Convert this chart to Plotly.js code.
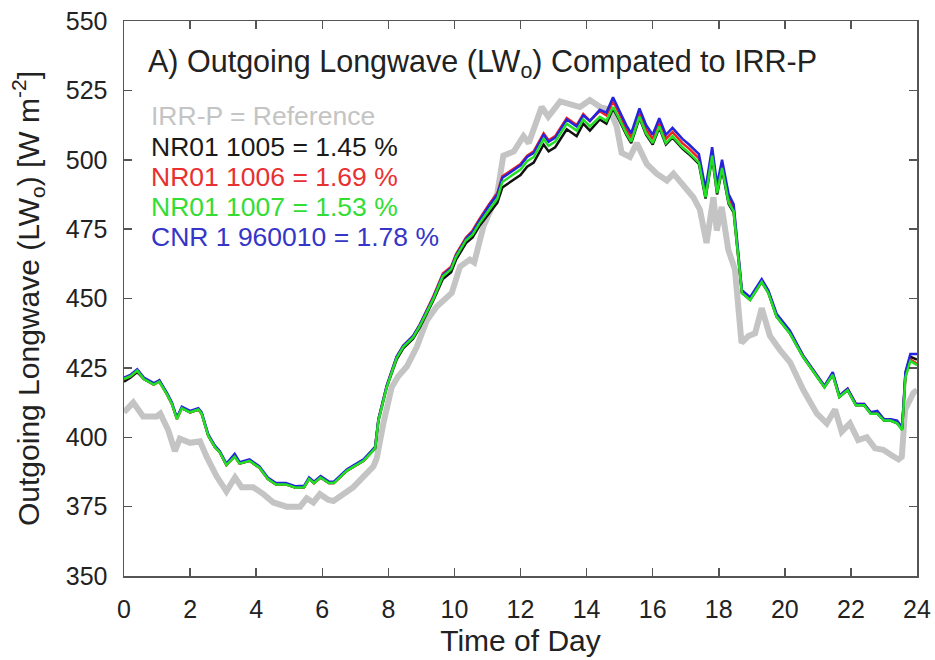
<!DOCTYPE html>
<html>
<head>
<meta charset="utf-8">
<script src="https://cdn.plot.ly/plotly-3.0.1.min.js"></script>
<style>html,body{margin:0;padding:0;background:#fff;}#chart{width:935px;height:660px;}</style>
</head>
<body>
<div id="chart"></div>
<script>
// Time of day (hours) for the reference series
const tRef = [0,0.28,0.58,0.99,1.1,1.34,1.54,1.69,2.0,2.3,2.5,2.8,3.1,3.36,3.56,3.91,4.22,4.52,4.92,5.33,5.53,5.73,5.93,6.18,6.34,6.94,7.55,7.65,7.85,8.1,8.3,8.56,8.86,9.16,9.46,9.7,9.92,10.17,10.47,10.6,10.88,11.1,11.3,11.48,11.8,12.09,12.25,12.64,12.84,13.2,13.5,13.8,14.1,14.41,14.71,14.91,15.06,15.31,15.52,15.82,16.12,16.43,16.63,16.93,17.23,17.43,17.63,17.84,17.94,18.09,18.29,18.49,18.69,18.9,19.1,19.3,19.55,19.85,20.16,20.56,20.97,21.27,21.52,21.72,21.97,22.22,22.48,22.73,22.98,23.23,23.44,23.54,23.64,23.89,24.0];
const lwRef = [409,412.5,407.5,407.5,408.5,402.5,395,399.5,398,398.5,393,386,380.5,385.5,382,382,379.5,376.5,375,375,378,376.5,379.5,377.5,377,382,389.5,392.5,405,418,422,425.5,432.5,442,447,450,452,461.5,464,463,476,482,488,501.5,503,508.5,506,519,515.5,521,520,519,521.5,519,518,512,502.5,501,506,498.5,495,492.5,495,490.5,486.5,482,470,486.5,474.5,483,467.5,460.5,434,436.5,437.5,446.5,436.5,431.5,427,417,408.5,405,410,402,405,399,400,396,395.5,393.5,392,393,410,416,417];

// Time of day (hours) for the instrument series
const tModel = [0,0.2,0.4,0.6,0.9,1.07,1.3,1.45,1.6,1.75,2.0,2.25,2.35,2.55,2.75,2.9,3.1,3.35,3.5,3.8,4.1,4.35,4.6,4.9,5.2,5.45,5.6,5.75,5.95,6.2,6.35,6.75,7.25,7.55,7.6,7.7,7.95,8.25,8.45,8.75,8.95,9.35,9.65,9.9,10.05,10.35,10.55,10.75,11.05,11.3,11.45,11.7,12.0,12.2,12.4,12.7,12.85,13.05,13.4,13.7,13.9,14.1,14.4,14.6,14.8,15.0,15.2,15.35,15.6,15.8,16.0,16.2,16.4,16.6,16.9,17.1,17.4,17.6,17.8,17.95,18.1,18.3,18.45,18.7,18.95,19.3,19.5,19.75,20.15,20.55,20.95,21.2,21.45,21.65,21.9,22.15,22.4,22.6,22.8,23.0,23.2,23.4,23.55,23.65,23.8,24.0];
const lw1005 = [420,421.5,423.5,421,419,420.5,415.5,412,407,410.5,409,410,408.5,400.5,396.5,394.5,390,393.5,390.5,391.5,389,385,383,383,381.8,382,385,383.5,385.5,383.5,383.5,388,391.5,395.5,396,406,418,428,432,435.5,439.5,449,457,459.5,464,470,472,476,480.5,484.5,490,492,494.5,497.5,499,505.5,503,504.5,511,508.5,513,510.5,514.5,513,518.5,514,509,506,515,509,505.5,511.5,505.5,508,504,502,498.5,486,501,487.5,496.5,484,481,452,449.5,456,452,443.5,437.5,429,422,418,422.5,414.5,417,411.5,411.5,408.5,408.5,406,406,405,403,423,429,428];
const lw1006 = [421,422,424,421,419,420,415.5,412,406.5,410.5,409,410,408.5,400.5,396.5,394.5,390,393,390.5,391.5,389,385,383,383,381.8,382,385,383.5,385.5,383.5,383.5,388,391.5,395.5,396.5,406.5,418.5,429,433,436.5,440.5,450.5,459,461.5,466,472,474.5,478.5,484,488,494,496,498.5,501.5,503,509.5,507,508.5,515,512.5,516.5,514,517.5,516,521,516.5,511,508,517,511,507.5,513.5,507.5,510,506,504,500.5,488,503,489.5,498.5,486,482.5,452.5,450,456.5,452.5,444,438,429.5,422.5,418.5,423,415,417.5,412,412,409,409,406.5,406.5,405.5,403,422,428,426.5];
const lw1007 = [421,422,424,421,419,420,415.5,412,406.5,410.5,409,410,408.5,400.5,396.5,394.5,390,393,390.5,391.5,389,385,383,383,381.8,382,385,383.5,385.5,383.5,383.5,388,391.5,395.5,396,406,418,428.5,432.5,436,440,449.5,458,460.5,465,471,473,477,482,486,492,494,496.5,499.5,501,507.5,505,506.5,513,510.5,514.5,512,515.5,514,519,514.5,509.5,506.5,515.5,509.5,506,512,506,508.5,504.5,502.5,499,486.5,501.5,488,497,484.5,481.5,452,449.5,456,452,443.5,437.5,429,422,418,422.5,414.5,417,411.5,411.5,408.5,408.5,406,406,405,402.5,421.5,427.5,426];
const lwCNR = [421.5,422.5,424.5,421.5,419.5,420.5,416,412.5,407,411,409.5,410.5,409,401,397,395,390.5,394,391,392,389.5,385.5,383.5,383.5,382.3,382.5,385.5,384,386,384,384,388.5,392,396,396.5,406.5,418.5,429,433,436.5,440.5,450,458.5,461,465.5,471.5,474,478,483.5,487.5,493.5,495.5,498,501,502.5,509,506.5,508,514.5,512,516,514,518,517,522.5,517.5,512.5,509.5,518.5,512.5,509,515,509,511.5,507.5,505.5,502,489.5,504.5,491,500,487.5,484,453,450.5,457,453,444.5,438.5,429.5,422.5,418.5,423.5,415,417.5,412,412,409,409.5,406.5,406.5,406,403.5,423.5,430,430];

const seriesNames = ['IRR-P = Reference','NR01 1005 = 1.45 %','NR01 1006 = 1.69 %','NR01 1007 = 1.53 %','CNR 1 960010 = 1.78 %'];
const xTicks = [0,2,4,6,8,10,12,14,16,18,20,22,24];
const yTicks = [350,375,400,425,450,475,500,525,550];

const colRef = '#c4c4c4', colBlack = '#111111', colRed = '#ee2222', colBlue = '#2424dd', colGreen = '#22e022';

const traces = [
  {x: tRef, y: lwRef, name: seriesNames[0], mode: 'lines', line: {color: colRef, width: 6}},
  {x: tModel, y: lw1005, name: seriesNames[1], mode: 'lines', line: {color: colBlack, width: 2.5}},
  {x: tModel, y: lw1006, name: seriesNames[2], mode: 'lines', line: {color: colRed, width: 2.5}},
  {x: tModel, y: lwCNR, name: seriesNames[4], mode: 'lines', line: {color: colBlue, width: 2.5}},
  {x: tModel, y: lw1007, name: seriesNames[3], mode: 'lines', line: {color: colGreen, width: 2.5}}
];

const fontFam = 'Liberation Sans, Arial, sans-serif';
const legColors = [colRef, '#1a1a1a', '#e83030', '#33dd33', '#3535c8'];
const legY = [116, 146.5, 176.5, 206.5, 237];
const annotations = [{
  xref: 'paper', yref: 'paper', x: (146-124)/793, y: (576-63)/555, xanchor: 'left', yanchor: 'middle',
  text: 'A) Outgoing Longwave (LW<sub>o</sub>) Compated to IRR-P', showarrow: false,
  font: {family: fontFam, size: 30.5, color: '#222'}
}];
seriesNames.forEach((s, i) => {
  annotations.push({
    xref: 'paper', yref: 'paper', x: (149-124)/793, y: (576-legY[i])/555, xanchor: 'left', yanchor: 'middle',
    text: s, showarrow: false, font: {family: fontFam, size: 26.5, color: legColors[i]}
  });
});

const axisCommon = {
  showgrid: false, zeroline: false, showline: true, linecolor: '#555', linewidth: 1.5,
  mirror: 'ticks', ticks: 'inside', ticklen: 8, tickwidth: 1.5, tickcolor: '#555',
  tickfont: {family: fontFam, size: 25, color: '#222'}
};

const layout = {
  width: 935, height: 660,
  margin: {l: 124, r: 18, t: 21, b: 84},
  paper_bgcolor: '#fff', plot_bgcolor: '#fff',
  showlegend: false,
  xaxis: Object.assign({}, axisCommon, {
    range: [0, 24], tickvals: xTicks, ticktext: xTicks.map(String), ticklabelstandoff: 10,
    title: {text: 'Time of Day', font: {family: fontFam, size: 30, color: '#222'}, standoff: 8}
  }),
  yaxis: Object.assign({}, axisCommon, {
    range: [350, 550], tickvals: yTicks, ticktext: yTicks.map(String), ticklabelstandoff: 10,
    title: {text: 'Outgoing Longwave (LW<sub>o</sub>) [W m<sup>-2</sup>]', font: {family: fontFam, size: 30, color: '#222'}, standoff: 17}
  }),
  annotations: annotations
};

Plotly.newPlot('chart', traces, layout, {displayModeBar: false, staticPlot: true});
</script>
</body>
</html>
